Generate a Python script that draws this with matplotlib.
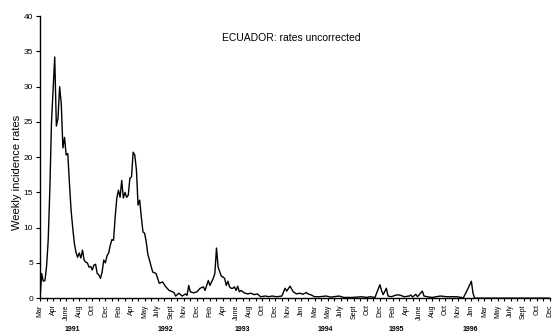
import numpy as np
import matplotlib
matplotlib.use("Agg")
import matplotlib.pyplot as plt
import matplotlib.transforms as mtransforms

plt.rcParams['font.family'] = ['Liberation Sans', 'DejaVu Sans']

# weeks since start of March 1991 and weekly incidence rates
weeks = [0, 1, 2, 3, 4, 5, 6, 7, 8, 9, 10, 11, 12, 13, 14, 15, 16, 17, 18, 19,
         20, 21, 22, 23, 24, 25, 26, 27, 28, 29, 30, 31, 32, 33, 34, 35, 36, 37, 38, 39,
         40, 41, 42, 43, 44, 45, 46, 47, 48, 49, 50, 51, 52, 53, 54, 55, 56, 57, 58, 59,
         60, 61, 62, 63, 64, 65, 66, 67, 68, 69, 70, 71, 72, 73, 75, 77, 79, 82, 83, 85,
         87, 89, 90, 91, 92, 94, 96, 98, 100, 101, 103, 104, 106, 107, 108, 109, 111, 112, 113, 114,
         115, 116, 117, 118, 119, 120, 121, 122, 123, 125, 127, 129, 131, 133, 135, 138, 140, 142, 145, 148,
         150, 151, 153, 155, 157, 159, 161, 163, 164, 166, 168, 171, 175, 178, 183, 186, 191, 197, 200, 202,
         205, 208, 209, 210, 212, 213, 215, 218, 220, 223, 226, 227, 228, 230, 231, 234, 235, 237, 240, 245,
         249, 255, 258, 259, 262, 264, 265, 266, 312]
rates = [0, 3.5, 2.4, 2.5, 4.5, 8.2, 15.3, 24.8, 29.5, 34.2, 24.4, 25.5, 30.0, 27.6, 21.3, 22.8, 20.3, 20.5, 16.3, 12.5,
         10.0, 7.8, 6.5, 5.8, 6.4, 5.7, 6.8, 5.4, 5.1, 5.0, 4.4, 4.5, 4.0, 4.7, 4.8, 3.5, 3.3, 2.8, 3.7, 5.4,
         5.0, 6.0, 6.4, 7.5, 8.3, 8.2, 11.5, 14.2, 15.3, 14.3, 16.7, 14.2, 15.0, 14.3, 14.6, 17.0, 17.2, 20.7, 20.3, 18.2,
         13.2, 13.9, 11.5, 9.4, 9.2, 8.0, 6.2, 5.4, 4.5, 3.7, 3.6, 3.5, 2.8, 2.1, 2.3, 1.6, 1.1, 0.8, 0.3, 0.7,
         0.3, 0.6, 0.4, 1.8, 0.9, 0.75, 0.9, 1.4, 1.6, 1.1, 2.5, 1.8, 2.8, 3.5, 7.1, 4.4, 3.1, 3.0, 2.8, 1.8,
         2.4, 1.6, 1.4, 1.4, 1.6, 1.1, 1.7, 0.9, 1.1, 0.75, 0.6, 0.7, 0.5, 0.6, 0.2, 0.3, 0.2, 0.3, 0.2, 0.3,
         1.4, 1.0, 1.7, 0.9, 0.6, 0.7, 0.55, 0.8, 0.6, 0.45, 0.2, 0.2, 0.3, 0.15, 0.3, 0.1, 0.1, 0.2, 0.1, 0.2,
         0.1, 1.9, 1.1, 0.5, 1.4, 0.3, 0.2, 0.45, 0.45, 0.2, 0.3, 0.45, 0.15, 0.55, 0.2, 1.0, 0.3, 0.2, 0.1, 0.3,
         0.2, 0.2, 0.1, 0, 1.4, 2.4, 0.7, 0, 0]

month_labels = ['Mar', 'Apr', 'June', 'Aug', 'Oct', 'Dec', 'Feb', 'Apr', 'May', 'July',
                'Sept', 'Nov', 'Dec', 'Feb', 'Apr', 'June', 'Aug', 'Oct', 'Dec', 'Nov',
                'Jan', 'Mar', 'May', 'July', 'Sept', 'Oct', 'Dec', 'Feb', 'Apr', 'June',
                'Aug', 'Oct', 'Nov', 'Jan', 'Mar', 'May', 'July', 'Sept', 'Oct', 'Dec']
years = ['1991', '1992', '1993', '1994', '1995', '1996']
year_weeks = [19.6, 76.5, 123.6, 174.4, 217.8, 263.1]

fig = plt.figure(figsize=(5.52, 3.35), dpi=100)
ax = fig.add_axes([0.0725, 0.11, 0.9235, 0.842])

ax.plot(weeks, rates, color='black', lw=1.0)

ax.set_xlim(0, 312)
ax.set_ylim(0, 40)
ax.set_yticks(np.arange(0, 41, 5))
ax.set_xticks(np.arange(0, 313, 8))
ax.set_xticks(np.arange(4, 313, 8), minor=True)
ax.set_xticklabels(month_labels, rotation=90, fontsize=5)
ax.tick_params(axis='y', labelsize=6, length=3, width=0.8, pad=2)
ax.tick_params(axis='x', which='both', length=2.5, width=0.8, pad=2)
ax.set_ylabel('Weekly incidence rates', fontsize=8)
ax.yaxis.set_label_coords(-0.036, 0.447)

for s in ['top', 'right']:
    ax.spines[s].set_visible(False)
for s in ['left', 'bottom']:
    ax.spines[s].set_linewidth(1.0)

trans = mtransforms.blended_transform_factory(ax.transData, ax.transAxes)
for yr, wk in zip(years, year_weeks):
    ax.text(wk, -0.112, yr, transform=trans, ha='center', va='center',
            fontsize=5, fontweight='bold')

ax.text(153.6, 36.9, 'ECUADOR: rates uncorrected', ha='center', va='center', fontsize=7.5)

fig.savefig('out.png', dpi=100)
